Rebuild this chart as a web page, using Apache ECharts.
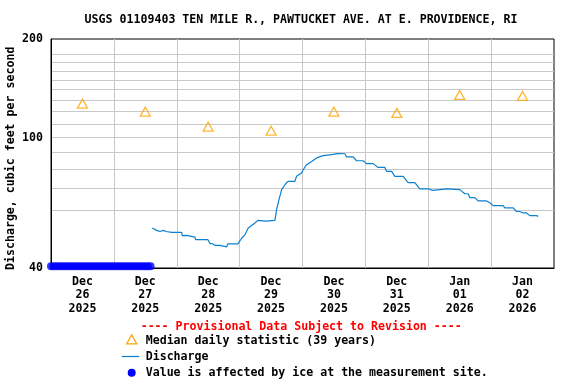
<!DOCTYPE html>
<html><head><meta charset="utf-8">
<script src="https://cdn.jsdelivr.net/npm/echarts@6/dist/echarts.min.js"></script>
<style>html,body{margin:0;padding:0;background:#fff}#c{width:576px;height:384px}</style>
</head><body><div id="c"></div>
<script>
// ---- data ----
const titleText = 'USGS 01109403 TEN MILE R., PAWTUCKET AVE. AT E. PROVIDENCE, RI';
const yAxisTitle = 'Discharge, cubic feet per second';
// x positions in days since Dec 26 2025 00:00
const labelDays = [0.5, 1.5, 2.5, 3.5, 4.5, 5.5, 6.5, 7.5];
const tickLabels = ['Dec\n26\n2025', 'Dec\n27\n2025', 'Dec\n28\n2025', 'Dec\n29\n2025',
                    'Dec\n30\n2025', 'Dec\n31\n2025', 'Jan\n01\n2026', 'Jan\n02\n2026'];
const yGridValues = [50, 60, 70, 80, 90, 100, 110, 120, 130, 140, 150, 160, 170, 180, 190];
const yLabelValues = [40, 100, 200];
const medianDays = [0.5, 1.5, 2.5, 3.5, 4.5, 5.5, 6.5, 7.5];
const medianValues = [127, 120, 108, 105, 120, 119, 135, 134];
const dischargeDays = [1.610, 1.680, 1.733, 1.790, 1.828, 1.919, 2.078, 2.087, 2.157, 2.178, 2.289, 2.300,
  2.496, 2.528, 2.560, 2.607, 2.687, 2.714, 2.793, 2.814, 2.973, 2.994, 3.032, 3.084, 3.137, 3.243,
  3.270, 3.291, 3.420, 3.561, 3.588, 3.625, 3.668, 3.720, 3.768, 3.879, 3.906, 3.986, 4.011, 4.065,
  4.145, 4.224, 4.329, 4.356, 4.463, 4.560, 4.674, 4.701, 4.806, 4.860, 4.965, 5.019, 5.124, 5.203,
  5.310, 5.337, 5.417, 5.469, 5.601, 5.680, 5.787, 5.866, 5.998, 6.073, 6.184, 6.300, 6.502, 6.582,
  6.634, 6.661, 6.741, 6.793, 6.927, 6.979, 7.032, 7.191, 7.218, 7.350, 7.404, 7.456, 7.509, 7.563,
  7.615, 7.722, 7.747];
const dischargeValues = [53.0, 52.1, 51.7, 52.1, 51.7, 51.4, 51.4, 50.2, 50.3, 49.7, 49.7, 48.8,
  48.8, 47.5, 47.5, 46.9, 46.9, 46.4, 46.4, 47.4, 47.4, 47.7, 49.3, 50.5, 53.0, 54.9,
  54.9, 55.9, 55.6, 55.9, 60.3, 64.6, 69.4, 71.8, 73.5, 73.5, 76.2, 78.0, 79.8, 82.7,
  84.6, 86.7, 88.1, 87.6, 88.7, 89.4, 89.3, 87.3, 87.3, 85.0, 85.0, 83.3, 83.3, 81.1,
  81.1, 78.9, 78.9, 76.2, 76.2, 72.9, 72.9, 69.8, 69.8, 69.0, 69.4, 69.8, 69.4, 67.4,
  67.4, 65.6, 65.6, 64.1, 64.1, 63.3, 62.0, 62.0, 61.0, 61.0, 59.5, 59.5, 58.9, 58.9,
  57.8, 57.8, 57.5];
const iceHours = [0, 1, 2, 3, 4, 5, 6, 7, 8, 9, 10, 11, 12, 13, 14, 15, 16, 17, 18, 19,
  20, 21, 22, 23, 24, 25, 26, 27, 28, 29, 30, 31, 32, 33, 34, 35, 36, 37, 38];
const iceValue = 40.5;

// ---- chart ----
const FONT = 'DejaVu Sans Mono';
const FS = 11.6;
const fontStr = 'bold ' + FS + 'px "' + FONT + '"';
const chart = echarts.init(document.getElementById('c'), null, {renderer: 'canvas'});

const discharge = dischargeDays.map((d, i) => [d, dischargeValues[i]]);
const medians = medianDays.map((d, i) => [d, medianValues[i]]);
const ice = iceHours.map(h => [h / 24, iceValue]);

chart.setOption({
  animation: false,
  backgroundColor: '#fff',
  textStyle: {fontFamily: FONT, fontWeight: 'bold', fontSize: FS, color: '#000'},
  grid: {left: 51, right: 22, top: 39, height: 229, show: true, borderColor: '#000', borderWidth: 1, backgroundColor: 'transparent'},
  xAxis: {
    type: 'value', min: 0, max: 8, interval: 1,
    axisLine: {show: true, lineStyle: {color: '#000', width: 1}},
    axisTick: {show: false},
    splitLine: {show: true, showMinLine: false, showMaxLine: false, lineStyle: {color: '#c8c8c8', width: 1}},
    axisLabel: {
      customValues: labelDays,
      margin: 7, lineHeight: 13.4,
      fontFamily: FONT, fontWeight: 'bold', fontSize: FS, color: '#000',
      formatter: v => { const i = labelDays.indexOf(v); return i >= 0 ? tickLabels[i] : ''; }
    }
  },
  yAxis: {
    type: 'log', logBase: 10, min: 40, max: 200,
    axisLine: {show: true, lineStyle: {color: '#000', width: 1}},
    axisTick: {show: false, customValues: yGridValues},
    splitLine: {show: true, showMinLine: false, showMaxLine: false, lineStyle: {color: '#c8c8c8', width: 1}},
    axisLabel: {
      customValues: yLabelValues, margin: 8,
      fontFamily: FONT, fontWeight: 'bold', fontSize: FS, color: '#000',
      formatter: v => String(Math.round(v))
    }
  },
  series: [
    {
      name: 'Discharge', type: 'line', data: discharge, showSymbol: false,
      lineStyle: {color: '#0b80cf', width: 1.2}, z: 3
    },
    {
      name: 'Median', type: 'scatter', data: medians, symbol: 'triangle', symbolSize: [10, 9],
      itemStyle: {color: 'rgba(0,0,0,0)', borderColor: '#ffa500', borderWidth: 1.3}, z: 4
    },
    {
      name: 'Ice', type: 'scatter', data: ice, symbol: 'circle', symbolSize: 8, clip: false,
      itemStyle: {color: '#0000ff'}, z: 5
    }
  ],
  graphic: [
    {type: 'text', x: 301, y: 20, style: {text: titleText, font: fontStr, fill: '#000', align: 'center', verticalAlign: 'middle'}},
    {type: 'text', x: 11, y: 158.3, rotation: Math.PI / 2, style: {text: yAxisTitle, font: fontStr, fill: '#000', align: 'center', verticalAlign: 'middle'}},
    {type: 'text', x: 301.2, y: 327.3, style: {text: '---- Provisional Data Subject to Revision ----', font: fontStr, fill: '#ff0000', align: 'center', verticalAlign: 'middle'}},
    {type: 'polygon', shape: {points: [[126.7, 343.8], [131.7, 334.8], [136.7, 343.8]]}, style: {fill: 'none', stroke: '#ffa500', lineWidth: 1.3}},
    {type: 'text', x: 145.7, y: 340.7, style: {text: 'Median daily statistic (39 years)', font: fontStr, fill: '#000', align: 'left', verticalAlign: 'middle'}},
    {type: 'line', shape: {x1: 121.7, y1: 356.5, x2: 139.3, y2: 356.5}, style: {stroke: '#0b80cf', lineWidth: 1.2}},
    {type: 'text', x: 145.7, y: 357.3, style: {text: 'Discharge', font: fontStr, fill: '#000', align: 'left', verticalAlign: 'middle'}},
    {type: 'circle', shape: {cx: 131.7, cy: 372.7, r: 4}, style: {fill: '#0000ff'}},
    {type: 'text', x: 145.7, y: 373.3, style: {text: 'Value is affected by ice at the measurement site.', font: fontStr, fill: '#000', align: 'left', verticalAlign: 'middle'}}
  ]
});
</script>
</body></html>
